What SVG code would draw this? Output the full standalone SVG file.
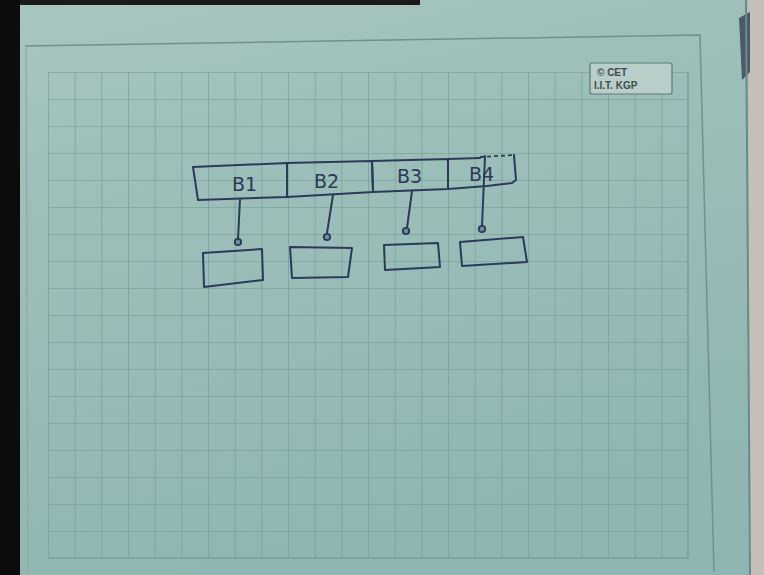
<svg xmlns="http://www.w3.org/2000/svg" width="764" height="575" viewBox="0 0 764 575">
<defs>
<linearGradient id="paper" x1="0" y1="0" x2="0.3" y2="1">
<stop offset="0" stop-color="#a9c6c0"/>
<stop offset="0.35" stop-color="#9dbfb9"/>
<stop offset="1" stop-color="#8fb6b2"/>
</linearGradient>
<pattern id="grid" x="48" y="72" width="26.67" height="27" patternUnits="userSpaceOnUse">
<path d="M0 0 H26.67 M0 0 V27" fill="none" stroke="#729792" stroke-width="1.2"/>
</pattern>
</defs>
<style>
.pen{fill:none;stroke:#2c3a5a;stroke-width:2;stroke-linecap:round;stroke-linejoin:round}
.dash{fill:none;stroke:#2c3a5a;stroke-width:1.8;stroke-dasharray:4 3}
.lbl{font-family:"DejaVu Sans","Liberation Sans",sans-serif;font-size:19px;fill:#2c3a5a}
.dot{fill:#6f8fa0;stroke:#2c3a5a;stroke-width:1.8}
.logo{font-family:"Liberation Sans",Arial,sans-serif;font-weight:bold;font-size:10px;fill:#3d4d4b}
</style>
<!-- background -->
<rect x="0" y="0" width="764" height="575" fill="#c7bdbb"/>
<rect x="0" y="0" width="20" height="575" fill="#0c0c0c"/>
<polygon points="20,0 748,0 750,575 20,575" fill="url(#paper)"/>
<rect x="20" y="0" width="400" height="5" fill="#1a1a1a"/>
<polygon points="739,18 750,12 750,72 742,80" fill="#4a5a66"/>
<line x1="746" y1="0" x2="750" y2="575" stroke="#6b8a88" stroke-width="2"/>
<!-- border and grid -->
<polyline points="25,46 700,35 714,572" fill="none" stroke="#6f928d" stroke-width="1.5"/>
<line x1="26" y1="46" x2="28" y2="572" stroke="#8aaaa5" stroke-width="1.2"/>
<rect x="48" y="72" width="640" height="486" fill="url(#grid)"/>
<line x1="48" y1="558" x2="688" y2="558" stroke="#729792" stroke-width="1.2"/>
<line x1="688" y1="72" x2="688" y2="558" stroke="#729792" stroke-width="1.2"/>
<!-- logo -->
<g id="logo">
<rect x="590" y="63" width="82" height="31" rx="2" fill="#b9cec9" stroke="#5e7a76" stroke-width="1.2"/>
<text class="logo" x="597" y="76">© CET</text>
<text class="logo" x="594" y="89">I.I.T. KGP</text>
</g>
<!-- array cells -->
<g id="cell-b1">
<polygon class="pen" points="193,167 287,163 287,197 198,200"/>
<text class="lbl" x="232" y="191">B1</text>
</g>
<g id="cell-b2">
<polygon class="pen" points="287,163 372,161 373,192 287,197"/>
<text class="lbl" x="314" y="188">B2</text>
</g>
<g id="cell-b3">
<polygon class="pen" points="372,161 448,159 448,189 373,192"/>
<text class="lbl" x="397" y="183">B3</text>
</g>
<g id="cell-b4">
<polyline class="pen" points="448,159 480,158"/>
<polyline class="dash" points="480,157 514,155"/>
<polyline class="pen" points="514,155 516,180 512,183 487,186 448,189"/>
<text class="lbl" x="469" y="181">B4</text>
</g>
<!-- buckets -->
<g id="bucket-1"><polygon class="pen" points="203,253 262,249 263,280 204,287"/></g>
<g id="bucket-2"><polygon class="pen" points="290,247 352,248 348,277 292,278"/></g>
<g id="bucket-3"><polygon class="pen" points="384,245 438,243 440,267 385,270"/></g>
<g id="bucket-4"><polygon class="pen" points="460,242 523,237 527,262 462,266"/></g>
<!-- connectors -->
<g id="connectors">
<line class="pen" x1="240" y1="199" x2="238" y2="239"/>
<circle class="dot" cx="238" cy="242" r="3.2"/>
<line class="pen" x1="333" y1="195" x2="327" y2="233"/>
<circle class="dot" cx="327" cy="237" r="3.2"/>
<line class="pen" x1="412" y1="191" x2="407" y2="228"/>
<circle class="dot" cx="406" cy="231" r="3.2"/>
<line class="pen" x1="485" y1="156" x2="482" y2="226"/>
<circle class="dot" cx="482" cy="229" r="3.2"/>
</g>
</svg>
